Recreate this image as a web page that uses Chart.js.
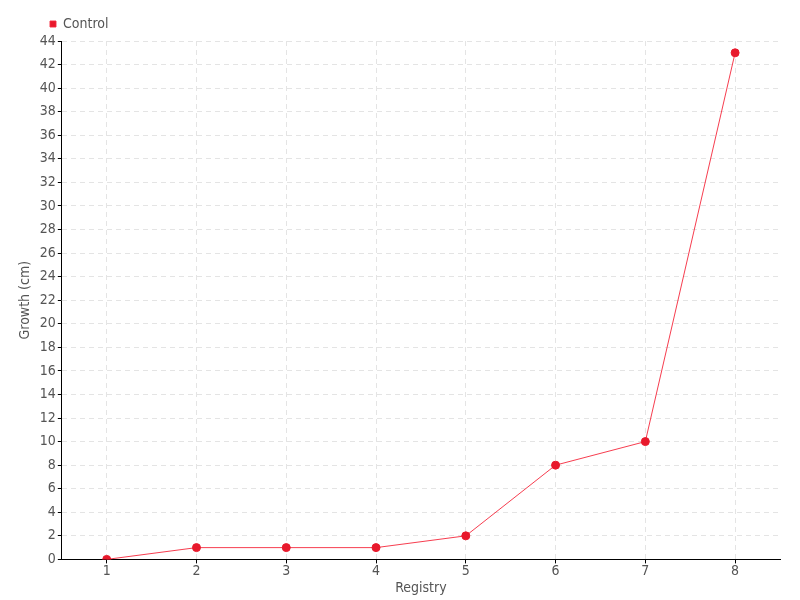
<!DOCTYPE html>
<html>
<head>
<meta charset="utf-8">
<script src="https://cdn.jsdelivr.net/npm/chart.js@4/dist/chart.umd.min.js"></script>
<style>
  html, body { margin: 0; padding: 0; background: #fff; }
  #wrap { width: 800px; height: 600px; }
</style>
</head>
<body>
<div id="wrap"><canvas id="chart" width="800" height="600"></canvas></div>
<script>
// data
const registry = ["1", "2", "3", "4", "5", "6", "7", "8"];
const control = [0, 1, 1, 1, 2, 8, 10, 43];
const yMin = 0;
const yMax = 44;
const yStep = 2;

const font = "'DejaVu Sans Condensed', 'Liberation Sans Narrow', sans-serif";

const ctx = document.getElementById("chart").getContext("2d");
new Chart(ctx, {
  type: "line",
  data: {
    labels: registry,
    datasets: [{
      label: "Control",
      data: control,
      borderColor: "rgba(245, 40, 60, 0.9)",
      backgroundColor: "#e8192c",
      pointBackgroundColor: "#e8192c",
      pointBorderColor: "#e8192c",
      borderWidth: 1,
      pointRadius: 4,
      tension: 0,
      fill: false
    }]
  },
  options: {
    responsive: false,
    animation: false,
    layout: { padding: { left: 13, right: 20, top: -20, bottom: 3 } },
    plugins: {
      legend: {
        align: "start",
        labels: {
          boxWidth: 6,
          boxHeight: 6,
          color: "#555",
          font: { family: font, size: 14 },
          padding: 37
        }
      },
      tooltip: { enabled: false }
    },
    scales: {
      x: {
        offset: true,
        title: { display: true, text: "Registry", color: "#555", font: { family: font, size: 14 }, padding: 0 },
        ticks: { color: "#555", font: { family: font, size: 14 }, padding: 0 },
        grid: { color: "#e4e4e4", tickColor: "#000", tickBorderDash: [], tickLength: 4, offset: false },
        border: { color: "#000", dash: [5, 4], display: true }
      },
      y: {
        min: yMin,
        max: yMax,
        title: { display: true, text: "Growth (cm)", color: "#555", font: { family: font, size: 14 }, padding: 4 },
        ticks: { stepSize: yStep, color: "#555", font: { family: font, size: 14 }, padding: 2 },
        grid: { color: "#e4e4e4", tickColor: "#000", tickLength: 4 },
        border: { color: "#000", dash: [5, 4] }
      }
    }
  }
});
</script>
</body>
</html>
